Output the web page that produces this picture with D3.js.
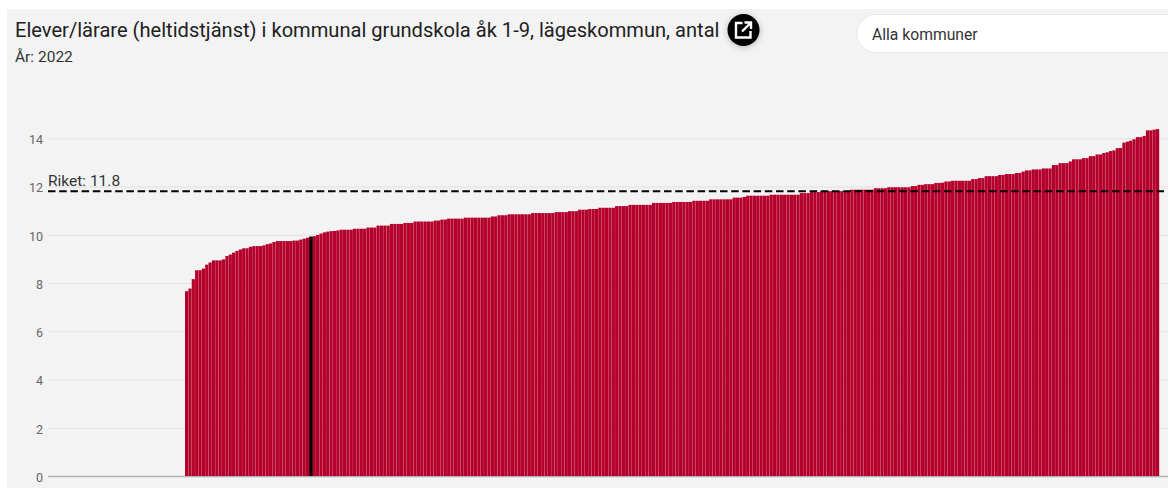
<!DOCTYPE html>
<html lang="sv"><head><meta charset="utf-8">
<script src="https://cdn.jsdelivr.net/npm/d3@7/dist/d3.min.js"></script>
<style>html,body{margin:0;padding:0;background:#fff;overflow:hidden}svg{display:block}</style>
</head><body><svg id="c" width="1168" height="489"></svg>
<script>
const titleText = "Elever/lärare (heltidstjänst) i kommunal grundskola åk 1-9, lägeskommun, antal";
const subtitleText = "År: 2022";
const searchText = "Alla kommuner";
const referenceLabel = "Riket: 11.8";
const referenceValue = 11.8;
const highlightedIndex = 37;
const yTicks = [0,2,4,6,8,10,12,14];
const values = [
7.66,7.77,8.16,8.53,8.53,8.6,8.76,8.85,8.94,8.94,
8.94,8.98,9.12,9.18,9.26,9.33,9.39,9.44,9.44,9.5,
9.53,9.53,9.53,9.56,9.61,9.64,9.7,9.74,9.74,9.74,
9.74,9.74,9.76,9.76,9.8,9.84,9.88,9.92,9.94,9.99,
10.05,10.1,10.13,10.15,10.16,10.18,10.21,10.21,10.21,10.21,
10.25,10.25,10.25,10.25,10.3,10.3,10.3,10.38,10.38,10.38,
10.38,10.45,10.45,10.45,10.45,10.49,10.49,10.49,10.55,10.55,
10.55,10.55,10.55,10.55,10.59,10.59,10.63,10.63,10.67,10.67,
10.67,10.67,10.67,10.71,10.71,10.71,10.71,10.71,10.71,10.71,
10.71,10.76,10.76,10.81,10.81,10.81,10.85,10.85,10.85,10.85,
10.85,10.85,10.85,10.9,10.9,10.9,10.9,10.9,10.9,10.9,
10.94,10.94,10.94,10.94,10.98,10.98,10.98,11.04,11.04,11.04,
11.07,11.07,11.07,11.12,11.12,11.12,11.12,11.12,11.19,11.19,
11.19,11.19,11.24,11.24,11.24,11.24,11.24,11.24,11.24,11.32,
11.32,11.32,11.32,11.32,11.32,11.36,11.36,11.36,11.36,11.36,
11.36,11.41,11.41,11.41,11.41,11.41,11.47,11.47,11.47,11.47,
11.47,11.47,11.47,11.54,11.54,11.54,11.57,11.62,11.62,11.62,
11.62,11.62,11.62,11.62,11.66,11.66,11.66,11.66,11.66,11.66,
11.66,11.66,11.66,11.73,11.73,11.73,11.77,11.77,11.77,11.81,
11.81,11.81,11.81,11.81,11.81,11.81,11.81,11.81,11.87,11.87,
11.87,11.87,11.87,11.87,11.87,11.93,11.93,11.93,11.93,11.97,
11.97,11.97,11.97,11.97,11.97,11.97,12.02,12.02,12.07,12.07,
12.1,12.1,12.1,12.15,12.15,12.16,12.21,12.21,12.24,12.24,
12.24,12.24,12.24,12.24,12.31,12.31,12.35,12.35,12.43,12.43,
12.43,12.43,12.48,12.48,12.52,12.52,12.52,12.56,12.56,12.62,
12.67,12.67,12.71,12.71,12.71,12.75,12.75,12.75,12.89,12.89,
12.97,12.97,12.97,13.04,13.13,13.13,13.13,13.18,13.18,13.26,
13.26,13.33,13.33,13.39,13.42,13.47,13.5,13.59,13.6,13.82,
13.86,13.9,13.96,14.05,14.05,14.1,14.33,14.33,14.36,14.38
];

const font = "Roboto, sans-serif";
const svg = d3.select("#c");
const defs = svg.append("defs");
const f = defs.append("filter").attr("id","sh").attr("x","-50%").attr("y","-50%").attr("width","200%").attr("height","200%");
f.append("feDropShadow").attr("dx",0).attr("dy",1).attr("stdDeviation",3).attr("flood-color","#000").attr("flood-opacity",0.25);

svg.append("rect").attr("x",7).attr("y",9).attr("width",1161).attr("height",479).attr("fill","#f3f3f3");

const y = d3.scaleLinear().domain([0,14]).range([476,138.3]);
const x = d3.scaleBand().domain(d3.range(values.length)).range([185,1159.2]).paddingInner(0.04).paddingOuter(0);

const axis = d3.axisLeft(y).tickValues(yTicks).tickSize(-1120).tickPadding(5).tickFormat(d3.format("d"));
const gAxis = svg.append("g").attr("transform","translate(48,0)").call(axis);
gAxis.select(".domain").remove();
gAxis.selectAll(".tick line").attr("stroke",d=>d===0?"#b0b0b0":"#e2e2e2").attr("stroke-width",d=>d===0?1.6:1);
gAxis.selectAll(".tick text").attr("font-family",font).attr("font-size",12.5).attr("fill","#666").attr("dy","0.42em");

svg.append("g").selectAll("rect").data(values).join("rect")
  .attr("x",(d,i)=>x(i)).attr("width",x.bandwidth())
  .attr("y",d=>y(d)).attr("height",d=>y(0)-y(d))
  .attr("fill","#b4002b");
svg.append("rect").attr("x",x(highlightedIndex)).attr("width",x.step())
  .attr("y",y(values[highlightedIndex])).attr("height",y(0)-y(values[highlightedIndex])).attr("fill","#000");

svg.append("line").attr("x1",48).attr("x2",1164).attr("y1",y(referenceValue)).attr("y2",y(referenceValue))
  .attr("stroke","#000").attr("stroke-width",2).attr("stroke-dasharray","7.5,3.7");
svg.append("text").attr("x",48).attr("y",186).attr("font-family",font).attr("font-size",15.5).attr("fill","#333").text(referenceLabel);

svg.append("text").attr("x",15).attr("y",37).attr("font-family",font).attr("font-size",20.1).attr("fill","#212121").text(titleText);
svg.append("text").attr("x",15).attr("y",62).attr("font-family",font).attr("font-size",15.5).attr("fill","#333").text(subtitleText);

const ic = svg.append("g").attr("transform","translate(743.5,30)");
ic.append("circle").attr("r",16).attr("fill","#000").attr("filter","url(#sh)");
ic.append("path").attr("d","M-1,-7H-7.5V7.5H7V1").attr("fill","none").attr("stroke","#fff").attr("stroke-width",2.4);
ic.append("path").attr("d","M-1.5,1.5L6,-6M1,-7.5H7.5V-1").attr("fill","none").attr("stroke","#fff").attr("stroke-width",2.4);

svg.append("rect").attr("x",857).attr("y",14.5).attr("width",340).attr("height",38).attr("rx",19).attr("fill","#fff").attr("stroke","#e8e8e8");
svg.append("text").attr("x",872).attr("y",39.5).attr("font-family",font).attr("font-size",15.7).attr("fill","#333").text(searchText);
</script></body></html>
